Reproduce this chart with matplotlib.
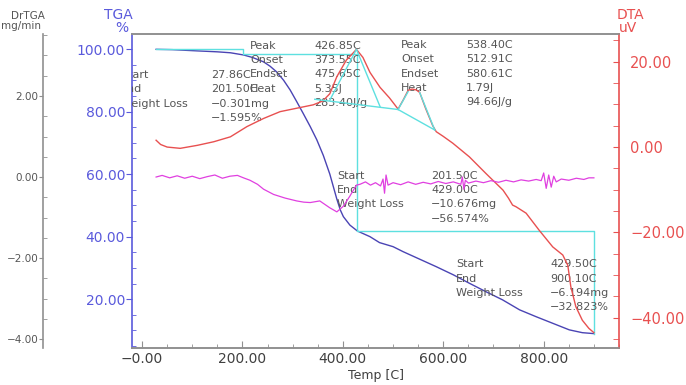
import matplotlib
matplotlib.use("Agg")
import matplotlib.pyplot as plt
from matplotlib.ticker import MultipleLocator, FixedLocator

# ---- data ----
tga_temp = [28, 60, 110, 150, 176, 202, 220, 242, 255, 268, 282, 295, 308, 321, 335, 348, 361,
            374, 381, 388, 395, 401, 414, 429, 454, 473, 500, 520, 553, 586, 620, 652, 685, 718,
            752, 785, 818, 851, 877, 900]
tga_pct = [99.9, 99.8, 99.4, 99.1, 98.8, 98.1, 97.3, 95.9, 94.5, 92.7, 90.0, 86.9, 83.2, 79.4,
           75.2, 71.0, 66.0, 60.0, 56.0, 52.0, 48.5, 46.4, 43.7, 41.8, 40.0, 38.1, 36.8, 35.2,
           32.8, 30.4, 27.8, 25.1, 22.4, 19.8, 16.6, 14.4, 12.3, 10.2, 9.3, 9.0]

dta_temp = [28, 37, 50, 76, 110, 143, 176, 209, 242, 275, 308, 341, 360, 374, 388, 407, 420, 427,
            440, 454, 474, 493, 510, 520, 530, 538, 546, 553, 565, 579, 586, 600, 619, 652, 685,
            719, 730, 738, 745, 765, 791, 818, 838, 848, 854, 864, 877, 890, 900]
dta_uv = [1.6, 0.6, 0.0, -0.3, 0.4, 1.25, 2.4, 4.8, 6.7, 8.3, 9.1, 9.9, 10.8, 12.5, 16.5, 20.4,
          22.0, 22.9, 21.0, 17.5, 14.0, 11.5, 8.9, 11.0, 13.3, 13.6, 13.4, 12.8, 9.0, 5.0, 3.6,
          2.5, 0.9, -2.3, -6.2, -10.1, -12.0, -13.6, -14.0, -15.5, -19.5, -23.4, -25.3, -27.7,
          -32.7, -37.4, -40.6, -42.5, -43.5]

dr_temp = [28, 40, 55, 70, 85, 100, 115, 130, 145, 160, 175, 190, 202, 215, 230, 242, 262, 285,
           308, 322, 335, 354, 374, 388, 401, 414, 427, 434, 445, 455, 465, 475, 480, 483, 486,
           490, 500, 515, 530, 545, 560, 575, 590, 605, 620, 635, 638, 641, 644, 650, 665, 680,
           695, 710, 725, 740, 755, 770, 785, 795, 800, 805, 810, 815, 820, 825, 835, 850, 865,
           880, 890, 900]
dr_val = [0.00, 0.04, -0.02, 0.03, -0.03, 0.02, -0.04, 0.01, 0.05, -0.03, 0.02, 0.04, -0.02,
          -0.08, -0.18, -0.30, -0.43, -0.52, -0.59, -0.62, -0.63, -0.59, -0.76, -0.86, -0.72,
          -0.47, -0.20, -0.18, -0.12, -0.20, -0.14, -0.22, -0.05, -0.40, 0.05, -0.20, -0.14,
          -0.19, -0.12, -0.18, -0.13, -0.17, -0.11, -0.16, -0.12, -0.18, 0.00, -0.30, -0.08,
          -0.15, -0.10, -0.14, -0.09, -0.13, -0.08, -0.12, -0.07, -0.10, -0.06, -0.09, 0.10,
          -0.28, 0.05, -0.25, 0.02, -0.12, -0.05, -0.08, -0.03, -0.06, -0.02, -0.02]

# weight loss steps (TGA axis)
step_x = [27.86, 201.5, 201.5, 429.0, 429.0, 900.1, 900.1]
step_y = [99.9, 99.9, 98.3, 98.3, 41.7, 41.7, 8.9]

# DTA peak construction lines
p1_base_x, p1_base_y = [344, 510], [11.2, 8.8]
p1_tan_x, p1_tan_y = [374, 427, 474], [11.0, 22.9, 9.5]
p2_base_x, p2_base_y = [510, 583], [8.8, 4.0]
p2_tan_x, p2_tan_y = [510, 530], [8.8, 13.0]
p2_fall_x, p2_fall_y = [553, 583], [12.8, 4.0]

BLUE_TXT = "#5a5adc"
BLUE_LINE = "#4a44b4"
RED = "#e85050"
MAGENTA = "#e040e0"
CYAN = "#5ee0e0"
GRAY = "#909090"
TXT = "#555555"

W, H = 686, 385
fig = plt.figure(figsize=(W / 100, H / 100), dpi=100)
L, R, T, B = 132, 619, 34, 348
ax = fig.add_axes([L / W, 1 - B / H, (R - L) / W, (B - T) / H])
ax_dta = ax.twinx()
ax_dr = ax.twinx()

ax.set_xlim(-20, 950)
ax.set_ylim(4.4, 104.8)
ax_dta.set_ylim(-47.1, 26.5)
ax_dr.set_ylim(-4.22, 3.53)

# curves
ax.plot(tga_temp, tga_pct, color=BLUE_LINE, lw=1.0)
ax.plot(step_x, step_y, color=CYAN, lw=1.0)
ax_dta.plot(dta_temp, dta_uv, color=RED, lw=1.0)
for xs, ys in [(p1_base_x, p1_base_y), (p1_tan_x, p1_tan_y), (p2_base_x, p2_base_y),
               (p2_tan_x, p2_tan_y), (p2_fall_x, p2_fall_y)]:
    ax_dta.plot(xs, ys, color=CYAN, lw=1.0)
ax_dr.plot(dr_temp, dr_val, color=MAGENTA, lw=0.9)

# spines
for a in (ax, ax_dta, ax_dr):
    a.spines["top"].set_color(GRAY)
    a.spines["bottom"].set_color(GRAY)
ax.spines["left"].set_color(BLUE_TXT)
ax.spines["right"].set_visible(False)
ax_dta.spines["right"].set_color(RED)
ax_dta.spines["left"].set_visible(False)
ax_dr.spines["right"].set_visible(False)
ax_dr.spines["top"].set_visible(False)
ax_dr.spines["bottom"].set_visible(False)
ax_dr.spines["left"].set_visible(True)
ax_dr.spines["left"].set_color(GRAY)
ax_dr.spines["left"].set_position(("axes", (43 - L) / (R - L)))
ax_dr.yaxis.set_ticks_position("left")
ax_dr.yaxis.set_label_position("left")
for a in (ax, ax_dta, ax_dr):
    for s in a.spines.values():
        s.set_linewidth(1.2)

# x axis
ax.xaxis.set_major_locator(FixedLocator([0, 200, 400, 600, 800]))
ax.set_xticklabels(["\u22120.00", "200.00", "400.00", "600.00", "800.00"])
ax.xaxis.set_minor_locator(MultipleLocator(50))
ax.tick_params(axis="x", which="major", direction="in", length=5, color=GRAY,
               labelsize=10, labelcolor="#404040", pad=3)
ax.tick_params(axis="x", which="minor", direction="in", length=3, color=GRAY)

# TGA axis
ax.yaxis.set_major_locator(FixedLocator([20, 40, 60, 80, 100]))
ax.set_yticklabels(["20.00", "40.00", "60.00", "80.00", "100.00"])
ax.yaxis.set_minor_locator(MultipleLocator(5))
ax.tick_params(axis="y", which="major", direction="out", length=4, color=BLUE_TXT,
               labelsize=10, labelcolor=BLUE_TXT, pad=1)
ax.tick_params(axis="y", which="minor", direction="in", length=3, color=BLUE_TXT)

# DTA axis
ax_dta.yaxis.set_major_locator(FixedLocator([-40, -20, 0, 20]))
ax_dta.set_yticklabels(["\u221240.00", "\u221220.00", "0.00", "20.00"])
ax_dta.yaxis.set_minor_locator(MultipleLocator(5))
ax_dta.tick_params(axis="y", which="major", direction="in", length=4, color=RED,
                   labelsize=10.5, labelcolor=RED, pad=8)
ax_dta.tick_params(axis="y", which="minor", direction="in", length=4, color=RED)

# DrTGA axis
ax_dr.yaxis.set_major_locator(FixedLocator([-4, -2, 0, 2]))
ax_dr.set_yticklabels(["\u22124.00", "\u22122.00", "0.00", "2.00"])
ax_dr.yaxis.set_minor_locator(MultipleLocator(0.5))
ax_dr.tick_params(axis="y", which="major", direction="out", length=3, color=GRAY,
                  labelsize=7.5, labelcolor=TXT, pad=0.5)
ax_dr.tick_params(axis="y", which="minor", direction="in", length=3, color=GRAY)

# axis titles
fig.text(28 / W, 1 - 16 / H, "DrTGA", color=TXT, fontsize=7.5, ha="center", va="center")
fig.text(21 / W, 1 - 26 / H, "mg/min", color=TXT, fontsize=7.5, ha="center", va="center")
fig.text(118 / W, 1 - 15 / H, "TGA", color=BLUE_TXT, fontsize=10, ha="center", va="center")
fig.text(122 / W, 1 - 28 / H, "%", color=BLUE_TXT, fontsize=10, ha="center", va="center")
fig.text(630 / W, 1 - 15 / H, "DTA", color=RED, fontsize=10, ha="center", va="center")
fig.text(628 / W, 1 - 28 / H, "uV", color=RED, fontsize=10, ha="center", va="center")
fig.text((L + R) / 2 / W, 1 - 376 / H, "Temp [C]", color="#404040", fontsize=9,
         ha="center", va="center")

# annotation blocks (pixel positions of the reference)
def px_x(px):
    return (px - L) / (R - L)

def px_y(py):
    return (B - py) / (B - T)

def block(lx, vx, y0, labels, values, dy=14.3):
    for i, lab in enumerate(labels):
        if lab:
            ax.text(px_x(lx), px_y(y0 + i * dy), lab, transform=ax.transAxes, fontsize=8,
                    color=TXT, va="center", ha="left", clip_on=True)
    for i, val in enumerate(values):
        if val:
            ax.text(px_x(vx), px_y(y0 + i * dy), val, transform=ax.transAxes, fontsize=8,
                    color=TXT, va="center", ha="left", clip_on=True)

block(121, 211, 75, ["Start", "End", "Weight Loss", ""],
      ["27.86C", "201.50C", "\u22120.301mg", "\u22121.595%"])
block(250, 314, 45.7, ["Peak", "Onset", "Endset", "Heat", ""],
      ["426.85C", "373.55C", "475.65C", "5.35J", "283.40J/g"])
block(401, 466, 45, ["Peak", "Onset", "Endset", "Heat", ""],
      ["538.40C", "512.91C", "580.61C", "1.79J", "94.66J/g"])
block(337, 431, 175.7, ["Start", "End", "Weight Loss", ""],
      ["201.50C", "429.00C", "\u221210.676mg", "\u221256.574%"])
block(456, 550, 264.3, ["Start", "End", "Weight Loss", ""],
      ["429.50C", "900.10C", "\u22126.194mg", "\u221232.823%"])

fig.savefig("out.png", dpi=100)
